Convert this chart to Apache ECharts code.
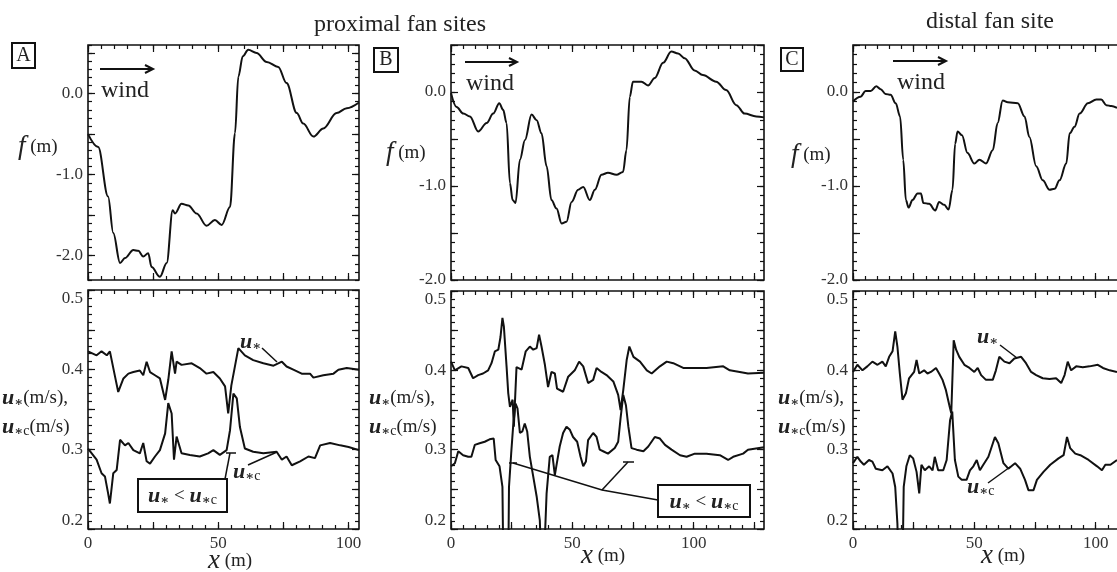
<!DOCTYPE html>
<html>
<head>
<meta charset="utf-8">
<script src="https://cdn.jsdelivr.net/npm/echarts@6/dist/echarts.min.js"></script>
<style>
    html, body { margin: 0; padding: 0; background: #fff; }
    #chart { width: 1117px; height: 572px; }
</style>
</head>
<body>
<div id="chart"></div>
<script>
// ---- site A (proximal) ----
const profileAX = [0, 3.9, 7.7, 9.7, 12.3, 14.2, 17.4, 19.3, 21.2, 23.1, 24.4, 27.6, 30.2, 32.5, 33.4, 35.9, 38.5, 41.7, 45.5, 48.7, 51.3, 54.5, 56.4, 57.7, 59.4, 61.5, 64.7, 68.6, 73.0, 76.2, 80.1, 82.6, 86.5, 90.3, 95.4, 99.3, 104]
const profileAF = [-0.5, -0.66, -1.27, -1.72, -2.09, -2.03, -1.93, -1.94, -2.01, -1.97, -2.14, -2.26, -2.09, -1.44, -1.48, -1.36, -1.38, -1.48, -1.63, -1.56, -1.62, -1.4, -0.49, 0.21, 0.46, 0.54, 0.5, 0.39, 0.33, 0.13, -0.24, -0.37, -0.53, -0.43, -0.24, -0.18, -0.11]

const ustarAX = [0, 3.3, 5.2, 7.2, 8.4, 10.4, 11.6, 13.6, 15.5, 17.4, 19.9, 21.2, 22.5, 23.8, 25.7, 27.6, 29.6, 30.8, 32.1, 33.4, 34.0, 35.9, 39.8, 42.9, 45.5, 48.1, 50.6, 52.6, 53.8, 55.0, 57.7, 60.2, 63.4, 67.3, 71.2, 74.4, 76.2, 78.8, 82.0, 85.2, 86.5, 90.3, 94.2, 96.1, 99.3, 104]
const ustarAU = [0.423, 0.418, 0.423, 0.418, 0.423, 0.391, 0.372, 0.389, 0.395, 0.397, 0.399, 0.393, 0.41, 0.397, 0.393, 0.389, 0.362, 0.387, 0.423, 0.395, 0.41, 0.406, 0.408, 0.402, 0.395, 0.397, 0.389, 0.379, 0.345, 0.38, 0.427, 0.418, 0.412, 0.408, 0.405, 0.41, 0.404, 0.4, 0.395, 0.395, 0.39, 0.393, 0.395, 0.4, 0.402, 0.4]

const ucritAX = [0, 3.3, 5.2, 6.5, 7.7, 8.4, 9.7, 11.0, 12.3, 14.2, 15.5, 17.4, 19.9, 21.2, 22.5, 23.8, 25.7, 27.6, 29.6, 30.8, 32.1, 33.0, 34.0, 35.9, 39.1, 42.9, 46.1, 48.1, 50.6, 53.2, 54.5, 55.8, 57.1, 58.3, 60.2, 63.4, 67.3, 72.4, 74.4, 76.2, 78.2, 81.4, 84.6, 87.1, 89.1, 92.9, 96.8, 100.0, 104]
const ucritAU = [0.301, 0.287, 0.27, 0.266, 0.245, 0.232, 0.27, 0.274, 0.312, 0.305, 0.308, 0.299, 0.295, 0.308, 0.285, 0.282, 0.291, 0.299, 0.32, 0.358, 0.345, 0.287, 0.316, 0.295, 0.293, 0.291, 0.295, 0.299, 0.293, 0.299, 0.324, 0.37, 0.364, 0.328, 0.301, 0.297, 0.295, 0.297, 0.287, 0.291, 0.28, 0.285, 0.291, 0.289, 0.305, 0.308, 0.305, 0.303, 0.299]

// ---- site B (proximal) ----
const profileBX = [0, 2.3, 5.1, 7.8, 11.2, 14.7, 17.4, 19.9, 21.5, 22.9, 24.3, 25.4, 26.6, 28.4, 30.5, 33.2, 35.3, 37.3, 39.4, 41.4, 43.5, 45.6, 47.6, 49.7, 52.4, 54.5, 57.2, 59.3, 62.0, 64.7, 68.2, 70.9, 72.3, 73.7, 75.0, 78.5, 81.2, 84.0, 87.4, 90.8, 93.6, 96.3, 100.4, 103.8, 109.3, 113.4, 117.6, 121.0, 125.8, 129]
const profileBF = [-0.01, -0.16, -0.23, -0.26, -0.42, -0.33, -0.23, -0.12, -0.19, -0.33, -0.97, -1.15, -1.18, -0.72, -0.51, -0.24, -0.3, -0.44, -0.79, -1.15, -1.24, -1.4, -1.38, -1.17, -1.04, -1.01, -1.15, -1.04, -0.88, -0.86, -0.88, -0.85, -0.62, -0.05, 0.11, 0.11, 0.07, 0.15, 0.31, 0.43, 0.41, 0.36, 0.23, 0.18, 0.11, 0.02, -0.14, -0.23, -0.26, -0.27]

const ustarBX = [0, 1.6, 4.3, 7.1, 9.1, 11.2, 13.2, 15.3, 16.7, 18.1, 19.5, 20.4, 21.2, 21.8, 22.9, 23.6, 24.3, 25.4, 25.9, 27.0, 29.1, 30.8, 32.5, 33.9, 35.3, 36.3, 37.3, 38.7, 40.0, 41.4, 42.8, 43.7, 46.2, 48.3, 51.0, 52.8, 54.5, 56.5, 58.6, 60.0, 62.0, 64.1, 66.9, 68.9, 69.9, 71.0, 72.4, 73.5, 75.2, 77.9, 80.7, 82.7, 86.1, 88.9, 91.6, 95.7, 99.8, 105.3, 112.2, 114.9, 119.0, 122.4, 129]
const ustarBU = [0.411, 0.4, 0.405, 0.403, 0.39, 0.394, 0.396, 0.4, 0.409, 0.424, 0.426, 0.442, 0.466, 0.455, 0.405, 0.371, 0.354, 0.363, 0.329, 0.404, 0.401, 0.424, 0.43, 0.426, 0.428, 0.445, 0.43, 0.407, 0.379, 0.398, 0.396, 0.377, 0.373, 0.392, 0.4, 0.411, 0.405, 0.384, 0.388, 0.403, 0.398, 0.394, 0.386, 0.369, 0.35, 0.375, 0.413, 0.43, 0.417, 0.411, 0.4, 0.396, 0.405, 0.411, 0.409, 0.403, 0.403, 0.403, 0.405, 0.4, 0.398, 0.396, 0.397]

// 0.15 marks where the curve runs off the bottom of the scale
const ucritBX = [0, 1.6, 3.0, 5.0, 7.1, 8.4, 9.8, 11.8, 13.9, 15.9, 17.6, 18.4, 20.0, 21.2, 21.6, 23.6, 23.9, 24.8, 25.6, 26.6, 27.4, 28.4, 29.4, 30.4, 31.4, 32.5, 33.9, 35.3, 36.6, 37.3, 38.2, 39.4, 40.7, 41.8, 42.8, 43.4, 44.8, 46.2, 47.6, 49.0, 50.3, 52.0, 53.4, 54.5, 55.6, 56.5, 58.6, 60.0, 61.3, 62.7, 64.7, 67.5, 68.9, 69.9, 71.0, 72.1, 73.1, 74.4, 76.5, 79.3, 81.3, 84.0, 86.1, 88.2, 90.9, 94.4, 97.1, 100.5, 105.3, 110.8, 114.2, 116.3, 120.4, 122.4, 129]
const ucritBU = [0.279, 0.283, 0.298, 0.293, 0.291, 0.291, 0.306, 0.308, 0.31, 0.313, 0.314, 0.287, 0.279, 0.253, 0.15, 0.15, 0.253, 0.295, 0.329, 0.358, 0.352, 0.321, 0.323, 0.333, 0.323, 0.291, 0.266, 0.241, 0.211, 0.15, 0.15, 0.245, 0.291, 0.293, 0.268, 0.279, 0.304, 0.321, 0.329, 0.325, 0.316, 0.31, 0.291, 0.279, 0.285, 0.312, 0.321, 0.316, 0.3, 0.298, 0.295, 0.302, 0.31, 0.34, 0.369, 0.356, 0.329, 0.302, 0.3, 0.298, 0.304, 0.316, 0.314, 0.306, 0.3, 0.293, 0.291, 0.295, 0.295, 0.293, 0.287, 0.291, 0.295, 0.3, 0.303]

// ---- site C (distal) ----
const profileCX = [0, 3.1, 5.2, 7.3, 9.6, 11.4, 13.4, 15.5, 17.6, 19.4, 20.7, 21.8, 22.9, 24.5, 26.6, 28.0, 29.0, 31.4, 33.9, 35.5, 37.6, 39.4, 41.0, 42.1, 43.1, 44.9, 47.2, 50.0, 52.1, 54.8, 57.6, 59.6, 61.7, 63.8, 67.9, 70.7, 72.7, 75.5, 78.2, 81.0, 83.1, 85.1, 87.9, 89.3, 91.3, 93.4, 96.8, 100.3, 102.3, 104.4, 106.5, 108.8]
const profileCF = [-0.1, -0.05, 0.01, 0.01, 0.06, 0.03, -0.02, -0.03, -0.12, -0.26, -0.72, -1.15, -1.23, -1.15, -1.08, -1.08, -1.18, -1.19, -1.26, -1.17, -1.2, -1.25, -1.04, -0.55, -0.42, -0.46, -0.65, -0.76, -0.72, -0.76, -0.62, -0.33, -0.09, -0.11, -0.12, -0.26, -0.48, -0.79, -0.94, -1.04, -1.03, -0.94, -0.76, -0.44, -0.37, -0.23, -0.12, -0.08, -0.08, -0.14, -0.15, -0.17]

const ustarCX = [0, 1.8, 3.9, 5.9, 8.0, 10.1, 12.1, 13.5, 14.9, 16.3, 17.4, 18.3, 19.3, 20.4, 21.8, 23.1, 25.2, 26.2, 27.3, 29.3, 30.7, 32.1, 34.2, 35.5, 36.9, 38.3, 39.7, 40.5, 41.5, 42.5, 43.8, 45.9, 48.0, 50.0, 51.4, 52.8, 54.8, 57.6, 58.9, 60.3, 62.4, 64.5, 66.5, 69.3, 71.3, 73.4, 75.5, 78.2, 81.0, 83.7, 85.8, 87.2, 88.5, 89.9, 92.0, 94.7, 97.5, 100.9, 103.0, 105.8, 108.8]
const ustarCU = [0.398, 0.407, 0.4, 0.405, 0.411, 0.407, 0.411, 0.405, 0.417, 0.424, 0.449, 0.43, 0.396, 0.363, 0.371, 0.39, 0.398, 0.413, 0.396, 0.4, 0.396, 0.398, 0.403, 0.396, 0.388, 0.375, 0.356, 0.346, 0.438, 0.426, 0.417, 0.407, 0.403, 0.398, 0.403, 0.394, 0.388, 0.388, 0.4, 0.417, 0.411, 0.409, 0.415, 0.417, 0.409, 0.398, 0.394, 0.39, 0.389, 0.39, 0.384, 0.394, 0.411, 0.4, 0.405, 0.404, 0.405, 0.407, 0.403, 0.4, 0.398]

const ucritCX = [0, 1.8, 3.2, 4.5, 6.6, 8.0, 9.4, 12.1, 14.2, 16.3, 17.4, 18.3, 18.8, 20.4, 20.9, 22.0, 23.4, 24.8, 26.2, 27.3, 28.2, 29.6, 31.4, 32.8, 33.7, 35.1, 37.2, 38.6, 40.0, 40.9, 42.0, 43.4, 44.8, 46.8, 48.2, 49.6, 51.0, 52.3, 53.7, 55.8, 57.2, 58.5, 59.9, 62.0, 64.0, 66.8, 68.9, 70.9, 72.3, 74.4, 75.8, 78.5, 81.3, 84.7, 86.8, 88.2, 89.5, 91.6, 93.7, 97.1, 100.6, 102.6, 104.0, 106.1, 108.8]
const ucritCU = [0.283, 0.291, 0.285, 0.281, 0.287, 0.285, 0.276, 0.274, 0.279, 0.27, 0.253, 0.207, 0.15, 0.15, 0.253, 0.279, 0.293, 0.289, 0.272, 0.245, 0.281, 0.274, 0.279, 0.274, 0.291, 0.274, 0.274, 0.287, 0.337, 0.348, 0.287, 0.266, 0.262, 0.262, 0.274, 0.279, 0.287, 0.274, 0.281, 0.291, 0.304, 0.316, 0.308, 0.283, 0.276, 0.283, 0.276, 0.262, 0.249, 0.249, 0.262, 0.272, 0.281, 0.289, 0.293, 0.316, 0.302, 0.295, 0.293, 0.287, 0.279, 0.274, 0.281, 0.281, 0.287]

// tick labels
const xLabels = [0, 50, 100]
const fLabels = [-2, -1, 0]
const uLabels = [0.2, 0.3, 0.4, 0.5]

const SERIF = '"Liberation Serif", "Times New Roman", serif'
const INK = '#111'

function steps(from, to, step) {
    const out = []
    for (let v = from; v <= to + 1e-9; v += step) {
        out.push(Math.round(v * 1000) / 1000)
    }
    return out
}

// one frame = 4 axes per dimension: labelled + mirrored major ticks, then the minor ticks on both sides
function frameAxes(dim, gridIndex, min, max, labels, major, minor, fmt, extraLabel) {
    const sides = dim === 'x' ? ['bottom', 'top'] : ['left', 'right']
    const specs = [
        { position: sides[0], ticks: major, len: 7, label: !!labels },
        { position: sides[1], ticks: major, len: 7, label: false },
        { position: sides[0], ticks: minor, len: 4, label: false },
        { position: sides[1], ticks: minor, len: 4, label: false },
    ]
    return specs.map((s) => {
        return {
            type: 'value',
            gridIndex: gridIndex,
            position: s.position,
            min: min,
            max: max,
            axisLine: { show: false, onZero: false },
            splitLine: { show: false },
            axisTick: {
                show: true,
                inside: true,
                length: s.len,
                customValues: s.ticks,
                lineStyle: { color: INK, width: 1.2 },
            },
            axisLabel: Object.assign({
                show: s.label,
                customValues: labels || [],
                formatter: fmt,
                fontFamily: SERIF,
                fontSize: 17,
                color: '#333',
                margin: dim === 'x' ? 6 : 5,
            }, extraLabel || {}),
        }
    })
}

const grids = [
    { left: 88, top: 45, width: 271, height: 235 },
    { left: 88, top: 290, width: 271, height: 239 },
    { left: 451, top: 45, width: 313, height: 235 },
    { left: 451, top: 291, width: 313, height: 238 },
    { left: 853, top: 45, width: 313, height: 235 },
    { left: 853, top: 291, width: 313, height: 238 },
].map((g) => Object.assign({
    show: true,
    borderColor: INK,
    borderWidth: 1.6,
    backgroundColor: 'transparent',
    outerBoundsMode: 'none',
    containLabel: false,
}, g))

const xFmt = (v) => String(v)
const yFmt = (v) => v.toFixed(1)
const xMajor = steps(0, 125, 25)
const xMinor = steps(0, 130, 5)
const fMajor = steps(-2.5, 0.5, 0.5)
const fMinor = steps(-2.5, 0.6, 0.1)
const uMajor = steps(0.2, 0.5, 0.05)
const uMinor = steps(0.2, 0.5, 0.01)
const uEdge = { verticalAlignMinLabel: 'bottom', verticalAlignMaxLabel: 'top' }

const panels = [
    { xMax: 104, yMin: -2.3, yMax: 0.6, lower: false },
    { xMax: 104, yMin: 0.2, yMax: 0.5, lower: true },
    { xMax: 129, yMin: -2.0, yMax: 0.5, lower: false },
    { xMax: 129, yMin: 0.2, yMax: 0.5, lower: true },
    { xMax: 129, yMin: -2.0, yMax: 0.5, lower: false },
    { xMax: 129, yMin: 0.2, yMax: 0.5, lower: true },
]

let xAxes = []
let yAxes = []
panels.forEach((p, i) => {
    // only the lower panel of each column carries x labels
    xAxes = xAxes.concat(frameAxes('x', i, 0, p.xMax, p.lower ? xLabels : null, xMajor, xMinor, xFmt))
    if (p.lower) {
        yAxes = yAxes.concat(frameAxes('y', i, p.yMin, p.yMax, uLabels, uMajor, uMinor, yFmt, uEdge))
    } else {
        yAxes = yAxes.concat(frameAxes('y', i, p.yMin, p.yMax, fLabels, fMajor, fMinor, yFmt))
    }
})

function curve(xs, ys, panel, smooth) {
    return {
        type: 'line',
        xAxisIndex: panel * 4,
        yAxisIndex: panel * 4,
        data: xs.map((x, i) => [x, ys[i]]),
        symbol: 'none',
        smooth: smooth ? 0.35 : false,
        smoothMonotone: 'x',
        clip: true,
        lineStyle: { color: INK, width: 2 },
        silent: true,
    }
}

const series = [
    curve(profileAX, profileAF, 0, true),
    curve(ustarAX, ustarAU, 1, false),
    curve(ucritAX, ucritAU, 1, false),
    curve(profileBX, profileBF, 2, true),
    curve(ustarBX, ustarBU, 3, false),
    curve(ucritBX, ucritBU, 3, false),
    curve(profileCX, profileCF, 4, true),
    curve(ustarCX, ustarCU, 5, false),
    curve(ucritCX, ucritCU, 5, false),
]

// ---- text and annotation graphics ----
const RICH = {
    u: { fontFamily: SERIF, fontStyle: 'italic', fontWeight: 'bold', fontSize: 22, fill: '#222' },
    s: { fontFamily: '"DejaVu Serif", serif', fontWeight: 'bold', fontSize: 13, fill: '#222', verticalAlign: 'bottom' },
    c: { fontFamily: SERIF, fontSize: 14, fill: '#222', verticalAlign: 'bottom' },
    n: { fontFamily: SERIF, fontSize: 19, fill: '#222' },
    f: { fontFamily: SERIF, fontStyle: 'italic', fontSize: 27, fill: '#222' },
    x: { fontFamily: SERIF, fontStyle: 'italic', fontSize: 27, fill: '#222' },
}

function text(x, y, str, size, extra) {
    return {
        type: 'text', x: x, y: y, silent: true,
        style: Object.assign({
            text: str, fontFamily: SERIF, fontSize: size, fill: '#222',
            align: 'left', verticalAlign: 'middle', rich: RICH,
        }, extra || {}),
    }
}
function seg(points, width) {
    return {
        type: 'polyline', silent: true,
        shape: { points: points },
        style: { stroke: INK, lineWidth: width || 1.5, fill: null },
    }
}
function box(x, y, w, h) {
    return {
        type: 'rect', silent: true,
        shape: { x: x, y: y, width: w, height: h },
        style: { stroke: INK, lineWidth: 2, fill: '#fff' },
    }
}
function arrow(x0, x1, y) {
    return [
        seg([[x0, y], [x1, y]], 2),
        seg([[x1 - 8, y - 4], [x1, y], [x1 - 8, y + 4]], 2),
    ]
}

const USTAR = '{u|u}{s|∗}'
const UCRIT = '{u|u}{s|∗}{c|c}'

let graphics = [
    text(400, 25, 'proximal fan sites', 24, { align: 'center' }),
    text(990, 22, 'distal fan site', 24, { align: 'center' }),

    box(12, 43, 23, 25), text(23.5, 56, 'A', 20, { align: 'center' }),
    box(374, 48, 24, 24), text(386, 60, 'B', 20, { align: 'center' }),
    box(781, 48, 22, 23), text(792, 60, 'C', 20, { align: 'center' }),

    text(101, 91, 'wind', 24),
    text(466, 84, 'wind', 24),
    text(897, 83, 'wind', 24),

    text(18, 147, '{f|f}{n| (m)}', 18),
    text(386, 153, '{f|f}{n| (m)}', 18),
    text(791, 155, '{f|f}{n| (m)}', 18),

    text(2, 398, USTAR + '{n|(m/s),}', 18),
    text(2, 427, UCRIT + '{n|(m/s)}', 18),
    text(369, 398, USTAR + '{n|(m/s),}', 18),
    text(369, 427, UCRIT + '{n|(m/s)}', 18),
    text(778, 398, USTAR + '{n|(m/s),}', 18),
    text(778, 427, UCRIT + '{n|(m/s)}', 18),

    text(230, 561, '{x|x}{n| (m)}', 18, { align: 'center' }),
    text(603, 556, '{x|x}{n| (m)}', 18, { align: 'center' }),
    text(1003, 556, '{x|x}{n| (m)}', 18, { align: 'center' }),

    // panel A labels and leaders
    text(240, 342, USTAR, 18),
    seg([[262, 348], [277, 362]]),
    text(233, 472, UCRIT, 18),
    seg([[248, 465], [277, 452]]),
    seg([[225, 479], [230, 453]]),
    seg([[226, 453], [236, 453]]),
    box(138, 479, 89, 33),
    text(182.5, 496, USTAR + '{n| < }' + UCRIT, 18, { align: 'center' }),

    // panel B leaders and box
    seg([[513, 463], [602, 490], [658, 500]]),
    seg([[509, 463], [517, 463]]),
    seg([[602, 490], [628, 462]]),
    seg([[623, 462], [634, 462]]),
    box(658, 485, 92, 32),
    text(704, 502, USTAR + '{n| < }' + UCRIT, 18, { align: 'center' }),

    // panel C labels and leaders
    text(977, 337, USTAR, 18),
    seg([[1000, 345], [1017, 358]]),
    text(967, 487, UCRIT, 18),
    seg([[988, 483], [1010, 467]]),
]
graphics = graphics.concat(arrow(100, 153, 69), arrow(465, 517, 62), arrow(893, 946, 61))

const chart = echarts.init(document.getElementById('chart'))
chart.setOption({
    animation: false,
    backgroundColor: '#fff',
    grid: grids,
    xAxis: xAxes,
    yAxis: yAxes,
    series: series,
    graphic: graphics,
})
</script>
</body>
</html>
